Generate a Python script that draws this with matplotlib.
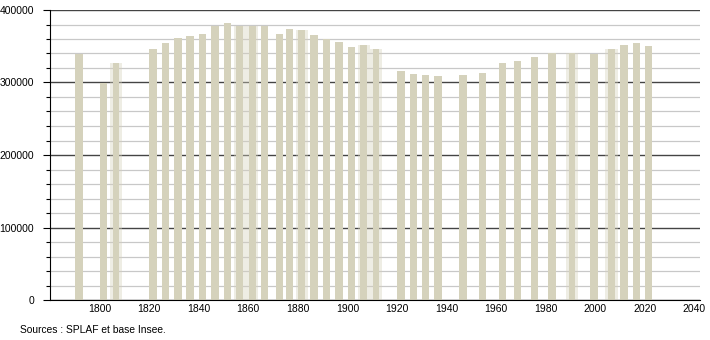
import matplotlib
matplotlib.use("Agg")
import matplotlib.pyplot as plt
from matplotlib.ticker import MultipleLocator

plt.rcParams['font.family'] = ['Liberation Sans', 'DejaVu Sans']

# années de recensement et population
annees = [1791, 1801, 1806, 1821, 1826, 1831, 1836, 1841, 1846, 1851,
          1856, 1861, 1866, 1872, 1876, 1881, 1886, 1891, 1896, 1901,
          1906, 1911, 1921, 1926, 1931, 1936, 1946, 1954, 1962, 1968,
          1975, 1982, 1990, 1999, 2006, 2011, 2016, 2021]
population = [339000, 299000, 326500, 346000, 354000, 362000, 364000, 367000, 378000, 382000,
              378500, 378500, 378500, 367000, 373500, 372000, 365500, 359500, 356000, 349000,
              351500, 346000, 316000, 311500, 310000, 309000, 310500, 313500, 327000, 330000,
              335500, 340500, 340500, 339000, 346000, 352000, 354000, 350500]
# barres floues dans l'original
floues = [1806, 1856, 1861, 1881, 1906, 1911, 1990, 2006]

couleur = '#d5d2bc'
decalage = 0.6  # barres centrées un peu après l'année

fig = plt.figure(figsize=(7.1, 3.4), dpi=100)
ax = fig.add_axes([50/710, 40/340, 650/710, 290/340])

ax.set_xlim(1780, 2042.3)
ax.set_ylim(0, 400000)

# grille
ax.yaxis.set_major_locator(MultipleLocator(100000))
ax.yaxis.set_minor_locator(MultipleLocator(20000))
ax.grid(axis='y', which='major', color='#444444', linewidth=1.0)
ax.grid(axis='y', which='minor', color='#c8c8c8', linewidth=0.9)
ax.set_axisbelow(True)

for a, p in zip(annees, population):
    x = a + decalage
    if a in floues:
        ax.bar(x, p, width=5.0, color=couleur, alpha=0.4, linewidth=0, zorder=2)
        ax.bar(x, p, width=2.7, color=couleur, linewidth=0, zorder=3)
    else:
        ax.bar(x, p, width=3.05, color=couleur, linewidth=0, zorder=3)

ax.spines['top'].set_visible(False)
ax.spines['right'].set_visible(False)
ax.spines['left'].set_color('black')
ax.spines['bottom'].set_color('black')
ax.spines['left'].set_zorder(4)
ax.spines['bottom'].set_zorder(4)

ax.set_xticks(range(1800, 2041, 20))
ax.set_yticks(range(0, 400001, 100000))
ax.tick_params(axis='x', length=0, labelsize=7.5, pad=3)
ax.tick_params(axis='y', which='major', length=5, width=0.8, labelsize=7.5, pad=6.5)
ax.tick_params(axis='y', which='minor', length=3, width=0.8)

fig.text(20/710, 1 - 330/340, 'Sources : SPLAF et base Insee.', fontsize=7.4,
         va='center', ha='left')

fig.savefig('out.png', dpi=100)
